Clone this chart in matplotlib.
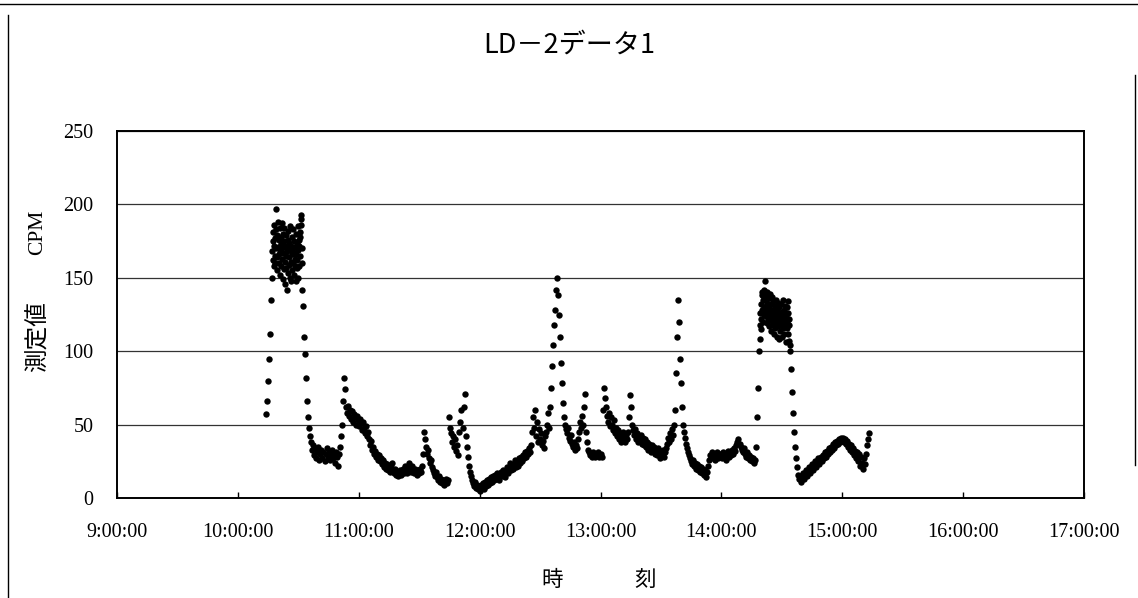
import matplotlib
matplotlib.use("Agg")
import matplotlib.pyplot as plt
from matplotlib.lines import Line2D

# ---------------- text ----------------
title = "LD－2データ1"
xlabel_parts = ["時", "刻"]
ylabel_parts = ["CPM", "測定値"]
x_tick_hours = [9, 10, 11, 12, 13, 14, 15, 16, 17]
x_tick_labels = ["9:00:00", "10:00:00", "11:00:00", "12:00:00", "13:00:00",
                 "14:00:00", "15:00:00", "16:00:00", "17:00:00"]
y_ticks = [0, 50, 100, 150, 200, 250]

# ---------------- data (CPM readings) ----------------
# each block: start time, sampling step in seconds, readings
rise1_start, rise1_step = "10:14:00", 30
rise1_vals = [57, 66, 80, 95, 112, 135]

peak1_start, peak1_step = "10:17:00", 10
peak1_vals = [150, 168, 175, 162, 181, 158, 172, 186, 165, 177, 160, 183, 197, 170, 164, 179, 155, 188, 171, 160,
              176, 166, 184, 152, 169, 178, 158, 173, 187, 163, 170, 149, 180, 167, 156, 175, 184, 161, 172, 146,
              165, 179, 157, 170, 142, 168, 176, 153, 182, 164, 159, 174, 150, 169, 185, 161, 148, 172, 166, 178,
              155, 170, 160, 183, 152, 167, 175, 158, 171, 163, 180, 148, 166, 157, 174, 162, 185, 150, 169, 176,
              158, 172, 165, 181, 178, 190, 193, 186, 170, 160]

h10_start, h10_step = "10:32:00", 30
h10_vals = [142, 131, 110, 98, 82, 66, 55, 48,
            42, 38, 33, 36, 29, 34, 27, 31, 35, 26, 30, 33, 27, 31, 25, 30, 34, 28, 31, 26,
            30, 33, 27, 29, 24, 31, 28, 22, 30, 35, 42, 50, 66, 82, 74, 62, 58, 63, 56, 60,
            54, 59, 52, 57, 55, 50, 56, 53]

h11_start, h11_step = "11:00:00", 30
h11_vals = [49, 54, 51, 46, 52, 48, 44, 49, 42, 45, 40, 36, 39, 33, 35, 30, 32, 28, 30, 26,
            29, 25, 27, 23, 26, 21, 24, 20, 23, 19, 22, 18, 21, 24, 19, 17, 20, 16, 18, 15,
            17, 19, 16, 18, 20, 17, 22, 19, 17, 21, 24, 20, 18, 22, 19, 17, 20, 18, 16, 19,
            17, 20, 18, 22, 30, 45, 40, 35, 30, 33, 27, 24, 26, 21, 19, 17, 15, 18, 14, 12,
            15, 11, 13, 10, 12, 9, 11, 13, 10, 12, 55, 48, 44, 38, 42, 35, 40, 32, 36, 29,
            45, 52, 60, 48, 62, 71, 42, 35, 28, 22, 18, 15, 12, 10, 8, 11, 7, 9, 6, 8]

h12_start, h12_step = "12:00:00", 30
h12_vals = [5, 9, 7, 10, 6, 11, 8, 12, 9, 13, 10, 14, 11, 15, 12, 16, 13, 17, 14, 12,
            16, 18, 15, 19, 16, 14, 18, 21, 17, 20, 24, 19, 22, 20, 23, 26, 21, 25, 22, 27,
            24, 28, 25, 29, 27, 31, 28, 32, 30, 34, 31, 36, 45, 55, 48, 60, 42, 52, 38, 47,
            40, 44, 36, 39, 34, 42, 45, 50, 58, 48, 62, 75, 90, 104, 118, 128, 142, 150, 138, 125,
            110, 92, 78, 65, 55, 50, 47, 44, 48, 41, 39, 43, 37, 35, 38, 33, 36, 34, 40, 45,
            52, 48, 56, 50, 62, 71, 45, 38, 33, 31, 29, 30, 28, 31, 29, 28, 30, 29, 31, 28]

h13_start, h13_step = "13:00:00", 30
h13_vals = [30, 28, 60, 75, 68, 62, 56, 52, 58, 49, 55, 50, 46, 53, 44, 48, 42, 46, 40, 44,
            38, 42, 45, 41, 38, 43, 40, 45, 55, 70, 62, 50, 46, 43, 47, 40, 44, 38, 42, 39,
            43, 37, 41, 36, 40, 35, 38, 33, 37, 34, 31, 36, 32, 35, 30, 33, 29, 34, 30, 27,
            32, 29, 33, 28, 31, 34, 37, 41, 38, 44, 40, 47, 43, 50, 60, 85, 110, 135, 120, 95,
            78, 62, 50, 45, 41, 37, 34, 31, 29, 27, 25, 23, 26, 22, 24, 20, 23, 19, 22, 18,
            21, 17, 20, 16, 19, 14, 18, 22, 26, 29, 27, 31, 28, 30, 26, 29, 31, 27, 30, 28]

h14_start, h14_step = "14:00:00", 30
h14_vals = [30, 27, 31, 28, 30, 26, 29, 32, 28, 31, 29, 33, 30, 34, 32, 36, 38, 40, 37, 35,
            33, 31, 34, 30, 28, 31, 27, 29, 26, 28, 25, 27, 24, 26]

rise2_start, rise2_step = "14:17:00", 30
rise2_vals = [35, 55, 75, 100]

peak2_start, peak2_step = "14:19:00", 10
peak2_vals = [108, 118, 126, 115, 132, 122, 138, 128, 140, 120, 135, 126, 130, 142, 125, 136, 148, 130, 124, 138,
              128, 119, 133, 140, 122, 127, 131, 117, 136, 124, 129, 139, 121, 126, 114, 132, 125, 137, 118, 128,
              123, 134, 112, 127, 120, 131, 116, 126, 135, 119, 124, 110, 129, 121, 133, 117, 125, 108, 130, 119,
              126, 114, 122, 132, 118, 124, 110, 127, 120, 135, 116, 123, 128, 112, 121, 131, 118, 125, 106, 122,
              130, 116, 120, 134, 112, 126, 118, 107, 122, 104]

tail_start, tail_step = "14:34:00", 30
tail_vals = [100, 88, 72, 58, 45, 35, 27, 21, 16, 13, 15, 11, 14, 17, 13, 16, 19, 15, 18, 21,
             17, 20, 23, 19, 22, 25, 21, 24, 27, 23, 26, 28, 25, 29, 27, 31, 28, 32, 30, 34,
             31, 35, 33, 37, 34, 38, 36, 39, 37, 40, 38, 41, 39, 41, 38, 40, 37, 39, 35, 37,
             33, 36, 31, 34, 29, 32, 27, 31, 25, 30, 22, 28, 24, 20, 27, 23, 30, 36, 40, 44]

blocks = [
    (rise1_start, rise1_step, rise1_vals),
    (peak1_start, peak1_step, peak1_vals),
    (h10_start, h10_step, h10_vals),
    (h11_start, h11_step, h11_vals),
    (h12_start, h12_step, h12_vals),
    (h13_start, h13_step, h13_vals),
    (h14_start, h14_step, h14_vals),
    (rise2_start, rise2_step, rise2_vals),
    (peak2_start, peak2_step, peak2_vals),
    (tail_start, tail_step, tail_vals),
]


def to_hours(hms):
    h, m, s = (int(p) for p in hms.split(":"))
    return h + m / 60 + s / 3600


xs, ys = [], []
for start, step, vals in blocks:
    t0 = to_hours(start)
    for i, v in enumerate(vals):
        xs.append(t0 + i * step / 3600)
        ys.append(v)

# ---------------- figure ----------------
W, H = 1138, 598
fig = plt.figure(figsize=(W / 100, H / 100), dpi=100)
fig.patch.set_facecolor("white")

ax = fig.add_axes([117 / W, 1 - 498 / H, (1084 - 117) / W, (498 - 131) / H])
ax.plot(xs, ys, linestyle="none", marker="o", markersize=4.6,
        markeredgewidth=0, color="black", zorder=3)

ax.set_xlim(9, 17)
ax.set_ylim(0, 250)
ax.set_xticks(x_tick_hours)
ax.set_xticklabels(x_tick_labels)
ax.set_yticks(y_ticks)
ax.set_yticklabels([str(v) for v in y_ticks])

serif = ["Liberation Serif", "DejaVu Serif"]
for lab in ax.get_xticklabels() + ax.get_yticklabels():
    lab.set_family(serif)
    lab.set_fontsize(14.5)

ax.tick_params(axis="x", direction="in", length=4, width=1, pad=18, colors="black")
ax.tick_params(axis="y", length=0, pad=17, colors="black")

ax.yaxis.grid(True, color="#333333", linewidth=0.9)
ax.set_axisbelow(True)
for sp in ax.spines.values():
    sp.set_linewidth(1.4)
    sp.set_color("black")

cjk = ["Noto Sans CJK JP", "DejaVu Sans"]
fig.text(569 / W, 1 - 45 / H, title, ha="center", va="center",
         fontsize=19.5, family=cjk)
# x axis label "時 … 刻" (widely spaced)
fig.text(552 / W, 1 - 580 / H, xlabel_parts[0], ha="center", va="center",
         fontsize=15.5, family=cjk)
fig.text(645 / W, 1 - 580 / H, xlabel_parts[1], ha="center", va="center",
         fontsize=15.5, family=cjk)
# y axis label "測定値  CPM" (vertical)
fig.text(38 / W, 1 - 232 / H, ylabel_parts[0], ha="center", va="center", rotation=90,
         fontsize=15.5, family=serif)
fig.text(38 / W, 1 - 337 / H, ylabel_parts[1], ha="center", va="center", rotation=90,
         fontsize=17, family=cjk)

# outer frame of the original page
fig.add_artist(Line2D([0, 1], [1 - 4 / H, 1 - 4 / H], transform=fig.transFigure,
                      color="black", linewidth=1))
fig.add_artist(Line2D([8 / W, 8 / W], [0, 1 - 15 / H], transform=fig.transFigure,
                      color="black", linewidth=1))
fig.add_artist(Line2D([1135 / W, 1135 / W], [1 - 465 / H, 1 - 75 / H], transform=fig.transFigure,
                      color="black", linewidth=1))

fig.savefig("out.png", dpi=100, facecolor="white")
